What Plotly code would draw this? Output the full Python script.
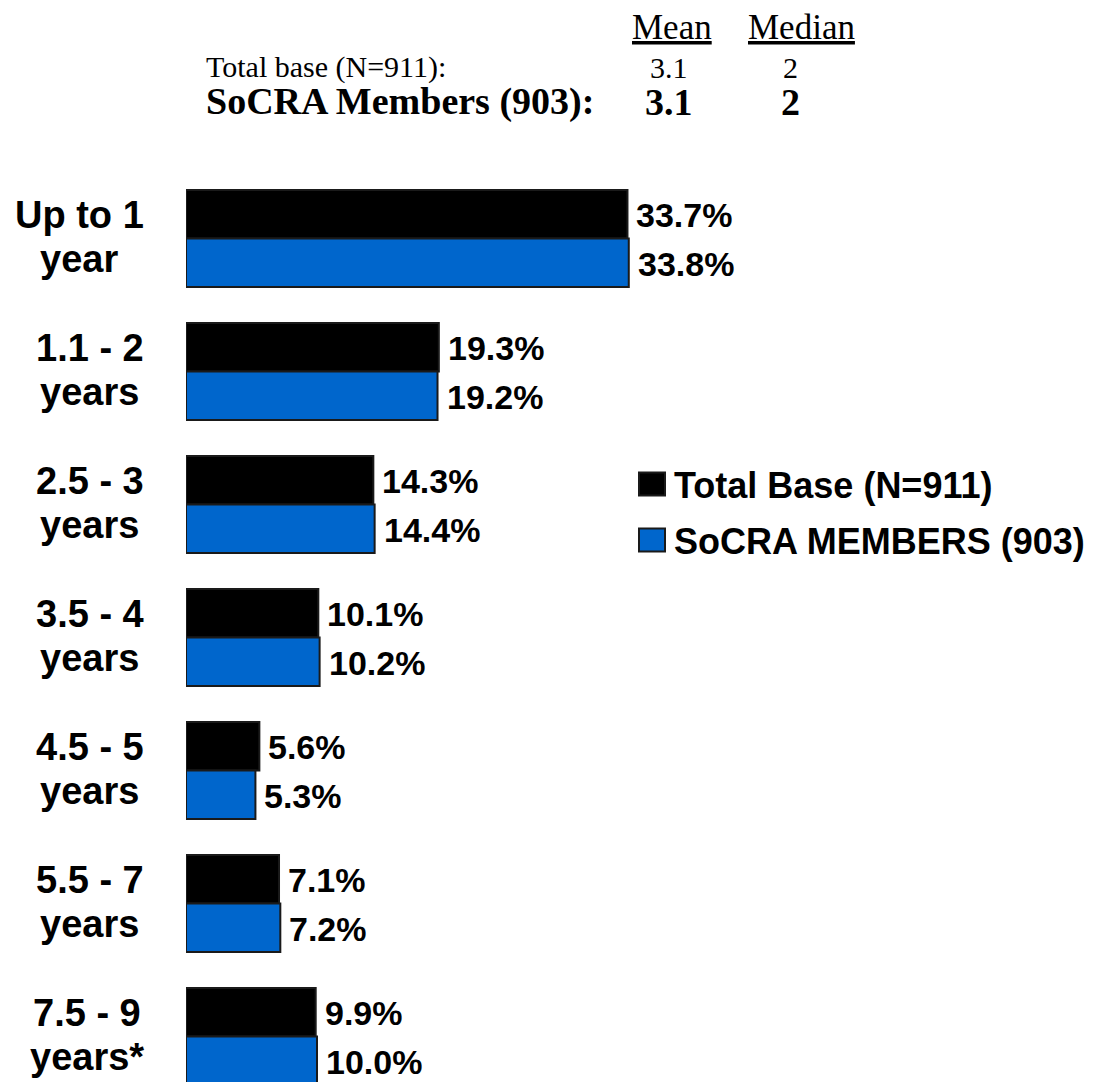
import plotly.graph_objects as go

# ---------------- data ----------------
categories = ["Up to 1 year", "1.1 - 2 years", "2.5 - 3 years", "3.5 - 4 years",
              "4.5 - 5 years", "5.5 - 7 years", "7.5 - 9 years*"]
label_line1 = ["Up to 1", "1.1 - 2", "2.5 - 3", "3.5 - 4", "4.5 - 5", "5.5 - 7", "7.5 - 9"]
label_line2 = ["year", "years", "years", "years", "years", "years", "years*"]
series_names = ["Total Base (N=911)", "SoCRA MEMBERS (903)"]
total_base = [33.7, 19.3, 14.3, 10.1, 5.6, 7.1, 9.9]
socra_members = [33.8, 19.2, 14.4, 10.2, 5.3, 7.2, 10.0]
series_colors = ["#000000", "#0066CC"]

stat_headers = ["Mean", "Median"]
stat_rows = ["Total base (N=911):", "SoCRA Members (903):"]
stat_mean = ["3.1", "3.1"]
stat_median = ["2", "2"]

# ---------------- geometry helpers ----------------
W, H = 1103, 1082
L = 186
PW = W - L


def px(xp):
    return (xp - L) / PW


def py(yp):
    return 1 - yp / H


# approximate Arial-Bold advance widths (em) used to centre two-line labels
ADV = {"U": .722, "p": .611, "t": .333, "o": .611, " ": .278, "y": .556, "e": .556,
       "a": .556, "r": .389, "s": .556, ".": .278, "-": .333, "*": .389}


def text_w(s, size, spacing=1.5):
    return sum(ADV.get(c, .556) for c in s) * size + spacing * (len(s) - 1)


SANS = "Liberation Sans, Arial, sans-serif"
SERIF = "Liberation Serif, Times New Roman, serif"

fig = go.Figure()
for name, vals, col in zip(series_names, [total_base, socra_members], series_colors):
    fig.add_trace(go.Bar(
        y=categories, x=vals, name=name, orientation="h",
        marker=dict(color=col, line=dict(color="#1a1a1a", width=2)),
        showlegend=False, hoverinfo="x+y",
    ))

annotations = []
# value labels
for i, (a, b) in enumerate(zip(total_base, socra_members)):
    for v, ys in ((a, 24), (b, -25)):
        annotations.append(dict(
            x=v, y=i, xref="x", yref="y", text=f"{v:.1f}%", showarrow=False,
            xanchor="left", yanchor="middle", xshift=7, yshift=ys,
            font=dict(family=SANS, size=34, color="#000000", weight="bold"),
        ))
# category labels: two centred lines, block right edge at ~148 px
CAT_SIZE = 38
for i, (l1, l2) in enumerate(zip(label_line1, label_line2)):
    bw = max(text_w(l1, CAT_SIZE), text_w(l2, CAT_SIZE))
    xc = 148 - bw / 2
    for txt, ys in ((l1, 24), (l2, -20)):
        annotations.append(dict(
            x=px(xc), y=i, xref="paper", yref="y", text=txt, showarrow=False,
            xanchor="center", yanchor="middle", yshift=ys,
            font=dict(family=SANS, size=CAT_SIZE, color="#000000", weight="bold"),
        ))

# legend (hand-built so the swatches can be large)
shapes = []
legend_rows = [484, 540]
for name, col, yc in zip(series_names, series_colors, legend_rows):
    shapes.append(dict(type="rect", xref="paper", yref="paper",
                       x0=px(639), x1=px(665), y0=py(yc + 11.5), y1=py(yc - 11.5),
                       fillcolor=col, line=dict(color="#1a1a1a", width=2)))
    annotations.append(dict(
        x=px(672), y=py(yc + 1), xref="paper", yref="paper", text=name, showarrow=False,
        xanchor="left", yanchor="middle",
        font=dict(family=SANS, size=36, color="#000000", weight="bold"),
    ))

# summary table at the top
hdr_x = [672, 801]
for h, xc in zip(stat_headers, hdr_x):
    annotations.append(dict(
        x=px(xc), y=py(28), xref="paper", yref="paper", text=f"<u>{h}</u>",
        showarrow=False, xanchor="center", yanchor="middle",
        font=dict(family=SERIF, size=35, color="#000000"),
    ))
row_y = [67, 102]
row_size = [30, 38]
row_weight = ["normal", "bold"]
for lab, mn, md, yc, fs, fw in zip(stat_rows, stat_mean, stat_median, row_y, row_size, row_weight):
    f = dict(family=SERIF, size=fs, color="#000000", weight=fw)
    annotations.append(dict(x=px(204), y=py(yc), xref="paper", yref="paper", text=lab,
                            showarrow=False, xanchor="left", yanchor="middle", font=f))
    annotations.append(dict(x=px(669), y=py(yc), xref="paper", yref="paper", text=mn,
                            showarrow=False, xanchor="center", yanchor="middle", font=f))
    annotations.append(dict(x=px(790), y=py(yc), xref="paper", yref="paper", text=md,
                            showarrow=False, xanchor="center", yanchor="middle", font=f))

# y range: category 0 centred at pixel 238.5, 133 px per category
pitch = 133.0
c0 = 238.5
y_top = -c0 / pitch
y_bot = (H - c0) / pitch

fig.update_layout(
    width=W, height=H,
    margin=dict(l=L, r=0, t=0, b=0),
    paper_bgcolor="white", plot_bgcolor="white",
    barmode="group", bargap=0.27, bargroupgap=0.0,
    xaxis=dict(range=[0, PW / 13.1], visible=False, fixedrange=True),
    yaxis=dict(type="category", range=[y_bot, y_top], visible=False, fixedrange=True),
    annotations=annotations, shapes=shapes,
    showlegend=False,
)

fig.write_html("out.html", config={"displayModeBar": False})
